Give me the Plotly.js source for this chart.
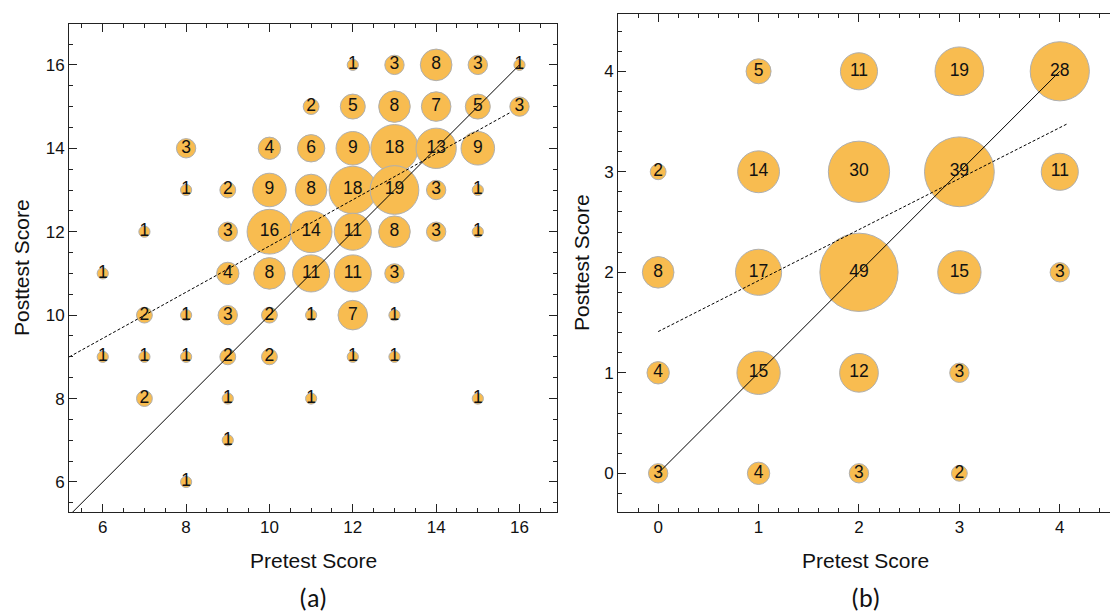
<!DOCTYPE html>
<html>
<head>
<meta charset="utf-8">
<script src="https://cdn.plot.ly/plotly-3.0.1.min.js"></script>
<style>html,body{margin:0;padding:0;background:#fff;}#chart{width:1110px;height:613px;}</style>
</head>
<body>
<div id="chart"></div>
<script>
// Panel (a): pretest score, posttest score, count of students
const preA  = [12,13,14,15,16, 11,12,13,14,15,16, 8,10,11,12,13,14,15, 8,9,10,11,12,13,14,15, 7,9,10,11,12,13,14,15, 6,9,10,11,12,13, 7,8,9,10,11,12,13, 6,7,8,9,10,12,13, 7,9,11,15, 9, 8];
const postA = [16,16,16,16,16, 15,15,15,15,15,15, 14,14,14,14,14,14,14, 13,13,13,13,13,13,13,13, 12,12,12,12,12,12,12,12, 11,11,11,11,11,11, 10,10,10,10,10,10,10, 9,9,9,9,9,9,9, 8,8,8,8, 7, 6];
const countA= [1,3,8,3,1, 2,5,8,7,5,3, 3,4,6,9,18,13,9, 1,2,9,8,18,19,3,1, 1,3,16,14,11,8,3,1, 1,4,8,11,11,3, 2,1,3,2,1,7,1, 1,1,1,2,2,1,1, 2,1,1,1, 1, 1];
const identityAx = [5.2, 16];
const identityAy = [5.2, 16];
const regressionAx = [5.2, 15.8];
const regressionAy = [9.0, 14.87];

// Panel (b)
const preB  = [1,2,3,4, 0,1,2,3,4, 0,1,2,3,4, 0,1,2,3, 0,1,2,3];
const postB = [4,4,4,4, 3,3,3,3,3, 2,2,2,2,2, 1,1,1,1, 0,0,0,0];
const countB= [5,11,19,28, 2,14,30,39,11, 8,17,49,15,3, 4,15,12,3, 3,4,3,2];
const identityBx = [0, 4];
const identityBy = [0, 4];
const regressionBx = [0, 4.08];
const regressionBy = [1.41, 3.48];

const fill = '#F8BC50';
const edge = 'rgb(175,175,175)';
const SANS = "Arial, 'Liberation Sans', sans-serif";
const numFont = {family: SANS, size: 17.5, color: '#111'};

function bubbles(x, y, n, xa, ya) {
  return {x: x, y: y, xaxis: xa, yaxis: ya, type: 'scatter', mode: 'markers', hoverinfo: 'skip',
    marker: {size: n, sizemode: 'area', sizeref: 0.016, color: fill, opacity: 1, line: {color: edge, width: 1}},
    showlegend: false};
}
function labels(x, y, n, xa, ya) {
  return {x: x, y: y, xaxis: xa, yaxis: ya, type: 'scatter', mode: 'text', text: n.map(String),
    textposition: 'middle center', textfont: numFont, hoverinfo: 'skip', showlegend: false};
}
function line(x, y, xa, ya, dash) {
  return {x: x, y: y, xaxis: xa, yaxis: ya, type: 'scatter', mode: 'lines', hoverinfo: 'skip',
    line: {color: '#000', width: 1, dash: dash}, showlegend: false};
}

const data = [
  bubbles(preA, postA, countA, 'x', 'y'),
  bubbles(preB, postB, countB, 'x2', 'y2'),
  line(identityAx, identityAy, 'x', 'y', 'solid'),
  line(regressionAx, regressionAy, 'x', 'y', '3px,2px'),
  line(identityBx, identityBy, 'x2', 'y2', 'solid'),
  line(regressionBx, regressionBy, 'x2', 'y2', '3px,2px'),
  labels(preA, postA, countA, 'x', 'y'),
  labels(preB, postB, countB, 'x2', 'y2')
];

const W = 1110, H = 613;
const tickFont = {family: SANS, size: 17, color: '#111'};
function axis(extra) {
  return Object.assign({
    showgrid: false, zeroline: false, showline: true, linecolor: '#222', linewidth: 1,
    ticks: 'inside', ticklen: 8, tickwidth: 1, tickcolor: '#222', mirror: 'ticks',
    tickfont: tickFont, fixedrange: true
  }, extra);
}
const titleFont = {family: SANS, size: 21, color: '#111'};
const capFont = {family: "Carlito, Lato, 'Open Sans', sans-serif", size: 26, color: '#111'};

const layout = {
  width: W, height: H,
  margin: {l: 0, r: 0, t: 0, b: 0},
  paper_bgcolor: '#fff', plot_bgcolor: '#fff',
  showlegend: false,
  xaxis: axis({domain: [69/W, 557/W], range: [5.19, 16.9], tickmode: 'linear', tick0: 0, dtick: 2,
    minor: {dtick: 0.5, ticklen: 4, ticks: 'inside', tickcolor: '#222'}, anchor: 'y'}),
  yaxis: axis({domain: [(H-512)/H, (H-24)/H], range: [5.28, 16.98], tickmode: 'linear', tick0: 0, dtick: 2,
    minor: {dtick: 0.5, ticklen: 4, ticks: 'inside', tickcolor: '#222'}, anchor: 'x'}),
  xaxis2: axis({domain: [618/W, 1], range: [-0.4, 4.5], tickmode: 'linear', tick0: 0, dtick: 1,
    minor: {dtick: 0.2, ticklen: 4, ticks: 'inside', tickcolor: '#222'}, anchor: 'y2'}),
  yaxis2: axis({domain: [(H-512)/H, (H-14)/H], range: [-0.385, 4.57], tickmode: 'linear', tick0: 0, dtick: 1,
    minor: {dtick: 0.2, ticklen: 4, ticks: 'inside', tickcolor: '#222'}, anchor: 'x2', mirror: false}),
  annotations: [
    {text: 'Pretest Score', xref: 'paper', yref: 'paper', x: 313/W, y: (H-560)/H, showarrow: false,
      font: titleFont, xanchor: 'center', yanchor: 'middle'},
    {text: 'Pretest Score', xref: 'paper', yref: 'paper', x: 865/W, y: (H-560)/H, showarrow: false,
      font: titleFont, xanchor: 'center', yanchor: 'middle'},
    {text: 'Posttest Score', xref: 'paper', yref: 'paper', x: 22/W, y: (H-268)/H, showarrow: false, textangle: -90,
      font: titleFont, xanchor: 'center', yanchor: 'middle'},
    {text: 'Posttest Score', xref: 'paper', yref: 'paper', x: 581/W, y: (H-263)/H, showarrow: false, textangle: -90,
      font: titleFont, xanchor: 'center', yanchor: 'middle'},
    {text: '(a)', xref: 'paper', yref: 'paper', x: 313/W, y: (H-598)/H, showarrow: false,
      font: capFont, xanchor: 'center', yanchor: 'middle'},
    {text: '(b)', xref: 'paper', yref: 'paper', x: 865/W, y: (H-598)/H, showarrow: false,
      font: capFont, xanchor: 'center', yanchor: 'middle'}
  ]
};

Plotly.newPlot('chart', data, layout, {displayModeBar: false, staticPlot: true});
</script>
</body>
</html>
